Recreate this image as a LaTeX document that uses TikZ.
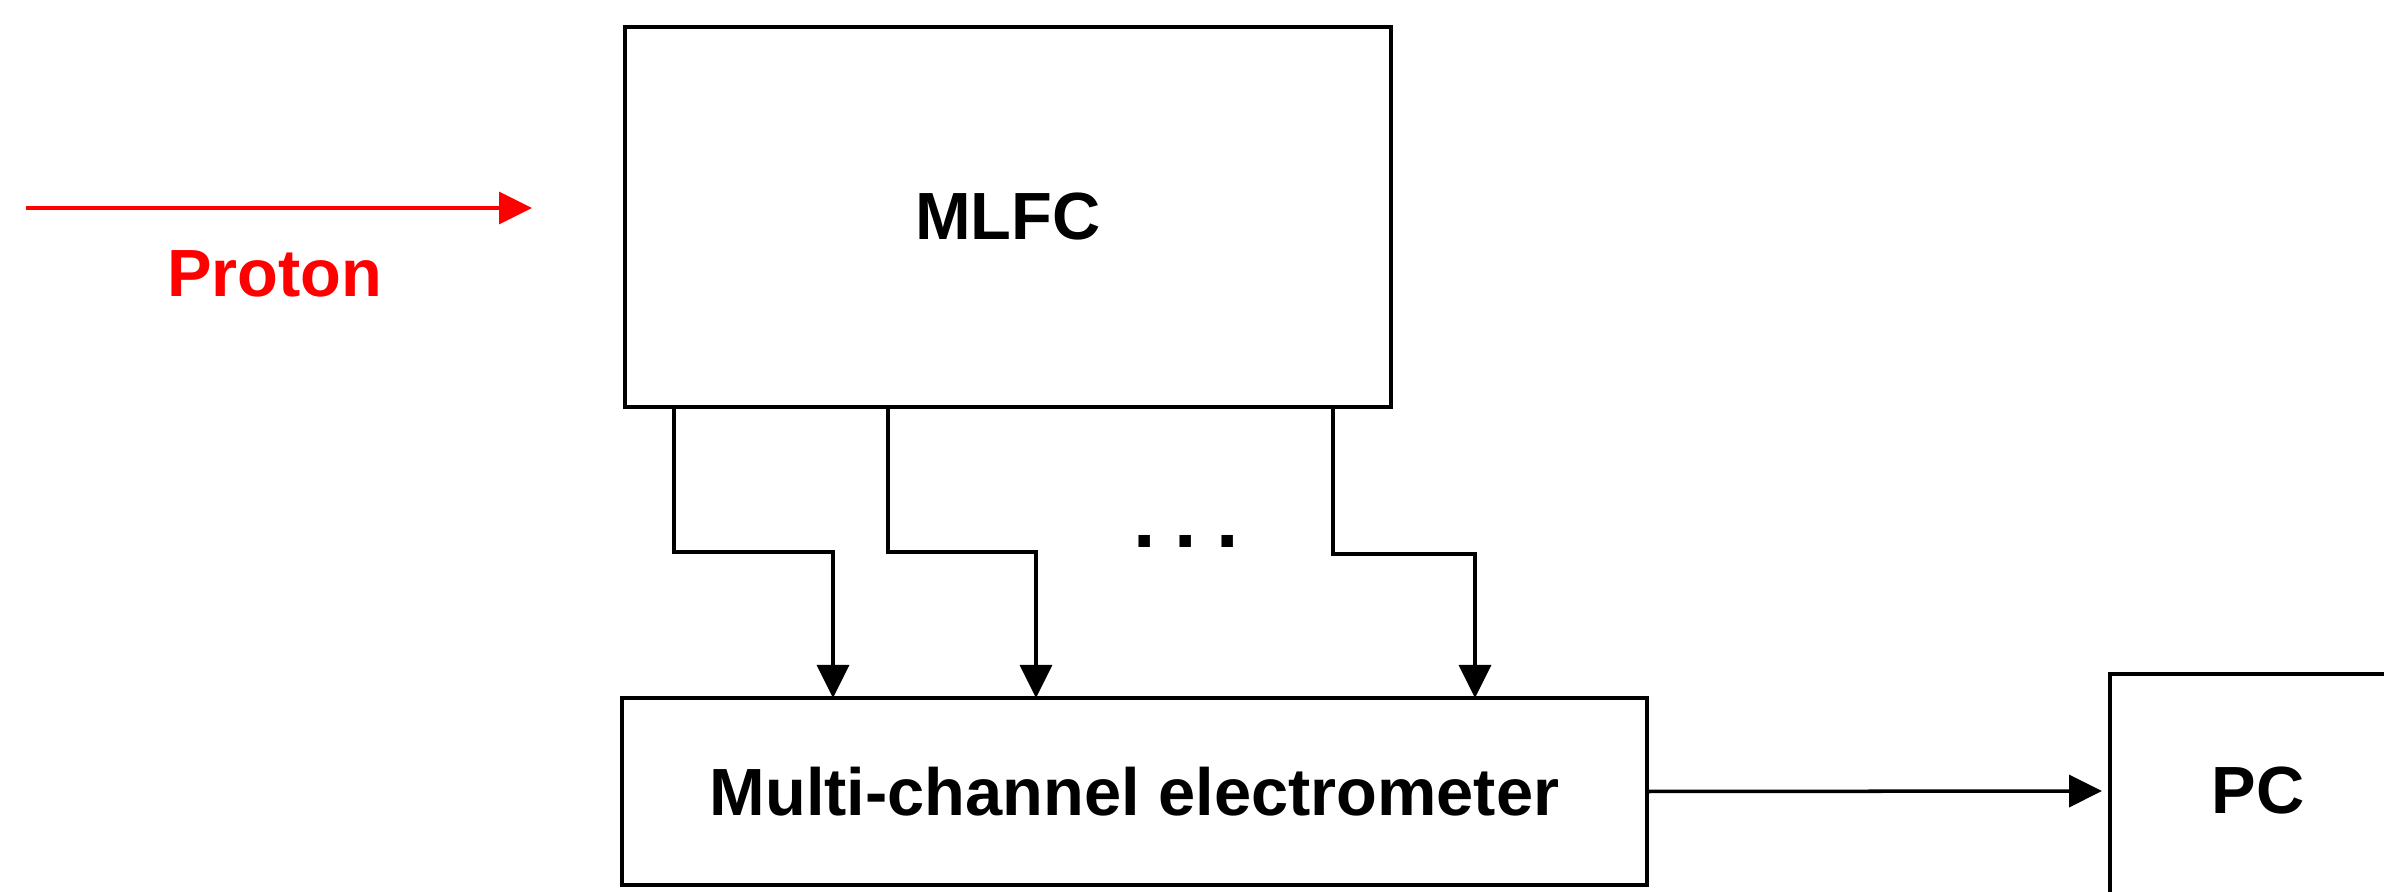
\documentclass[tikz,border=0pt]{standalone}
\usepackage{fontspec}
\setsansfont{Liberation Sans}
\usetikzlibrary{arrows.meta, positioning}

\tikzset{
	blk/.style={draw, line width=1pt, inner sep=0pt, outer sep=0pt, font=\sffamily\bfseries\fontsize{19}{22}\selectfont},
	sig/.style={-{Triangle[length=3.3mm,width=3.2mm]}, line width=1pt},
}

\begin{document}
\begin{tikzpicture}
						\clip (0,0) rectangle (23.84,8.92);
						
						\node[blk, minimum width=7.66cm, minimum height=3.8cm] (mlfc) at (10.08,6.75) {MLFC};
						\node[blk, minimum width=10.25cm, minimum height=1.87cm] (elec) at (11.345,1.005) {Multi-channel electrometer};
						\node[blk, minimum width=2.96cm, minimum height=2.34cm] (pc) at (22.58,1.01) {PC};
						
						\coordinate (p0) at (0.26,6.84);
						\coordinate (p1) at (5.32,6.84);
						\draw[sig, red] (p0) -- (p1);
						\node[red, font=\sffamily\bfseries\fontsize{19}{22}\selectfont] (proton) at (2.75,6.18) {Proton};
						
						\foreach \xa/\ya/\xb in {6.74/3.40/8.33, 8.88/3.40/10.36, 13.33/3.38/14.75}
							\draw[sig] (mlfc.south -| \xa,0) -- (\xa,\ya) -- (\xb,\ya) -- (elec.north -| \xb,0);
						\node[anchor=base, font=\sffamily\bfseries\fontsize{23}{26}\selectfont] (dots) at (11.86,3.445) {.\hspace{1.9mm}.\hspace{1.9mm}.};
						
						\draw[sig, shorten >=0.8mm] (elec.east) -- (pc.west);
					\end{tikzpicture}
\end{document}
